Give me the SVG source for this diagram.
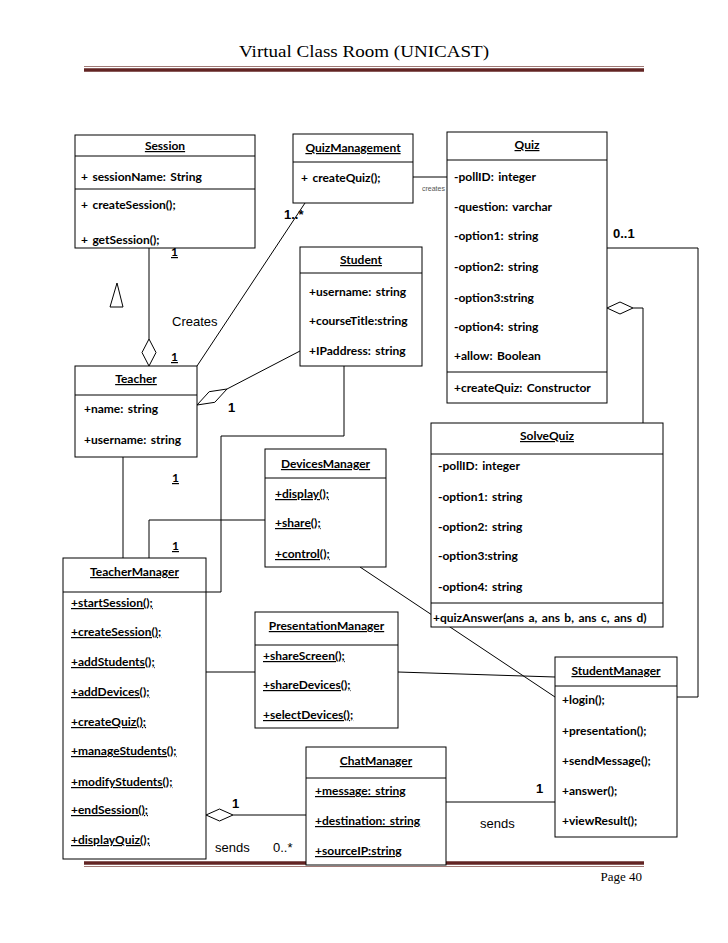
<svg xmlns="http://www.w3.org/2000/svg" width="728" height="943" viewBox="0 0 728 943">
<style>
.bx{fill:#fff;stroke:#000;stroke-width:1}
.dv{stroke:#000;stroke-width:1}
.t{font-family:Lato,"Open Sans","Liberation Sans",sans-serif;font-weight:bold;font-size:12px;word-spacing:1.5px;fill:#000}
.c{text-anchor:middle}
.u{text-decoration:underline}
.l{font-family:"Liberation Sans",Arial,sans-serif;font-size:13px;fill:#000}
.lb{font-family:"Liberation Sans",Arial,sans-serif;font-size:13px;font-weight:bold;fill:#000}
.cn{fill:none;stroke:#000;stroke-width:1}
.dm{fill:#fff;stroke:#000;stroke-width:1}
.sf{font-family:"Liberation Serif","DejaVu Serif",serif;fill:#000}
</style>
<rect width="728" height="943" fill="#fff"/>
<g id="header">
<text class="sf" x="364" y="57" font-size="17" text-anchor="middle" textLength="250" lengthAdjust="spacingAndGlyphs">Virtual Class Room (UNICAST)</text>
<line x1="84" y1="66.5" x2="644" y2="66.5" stroke="#a07a76" stroke-width="1"/>
<line x1="84" y1="70" x2="644" y2="70" stroke="#622423" stroke-width="3.5"/>
</g>
<g id="footer">
<line x1="84" y1="863" x2="644" y2="863" stroke="#622423" stroke-width="3.5"/>
<line x1="84" y1="866.5" x2="644" y2="866.5" stroke="#a07a76" stroke-width="1"/>
<text class="sf" x="642" y="881" font-size="13" text-anchor="end">Page 40</text>
</g>
<g id="connectors">
<line class="cn" x1="413" y1="177" x2="447" y2="177"/>
<path class="cn" d="M607,248 H698 V697 H677"/>
<path class="cn" d="M633,308 H643 V423"/>
<polygon class="dm" points="607,308 620,302 633,308 620,314"/>
<line class="cn" x1="149" y1="248" x2="149" y2="339"/>
<polygon class="dm" points="149,339 156,352.5 149,366 142,352.5"/>
<line class="cn" x1="305" y1="203" x2="197" y2="366"/>
<line class="cn" x1="227" y1="389" x2="300" y2="351"/>
<polygon class="dm" points="197,405 214.8,402.3 227,389 209.2,391.7"/>
<path class="cn" d="M344,366 V436 H221 V592 H206"/>
<line class="cn" x1="123" y1="457" x2="123" y2="558"/>
<path class="cn" d="M265,520 H149 V558"/>
<line class="cn" x1="360" y1="567" x2="555" y2="697"/>
<line class="cn" x1="206" y1="672" x2="255" y2="672"/>
<line class="cn" x1="398" y1="672" x2="555" y2="677"/>
<line class="cn" x1="446" y1="802" x2="555" y2="802"/>
<line class="cn" x1="233" y1="815" x2="306" y2="815"/>
<polygon class="dm" points="206,815 219.5,809 233,815 219.5,821"/>
<polygon points="117,283 110,307 123,307" fill="none" stroke="#000" stroke-width="1"/>
</g>
<g id="labels">
<text x="422" y="191" font-family="Liberation Sans,Arial,sans-serif" font-size="7" fill="#555">creates</text>
<text class="lb" x="284" y="219" font-size="12">1..*</text>
<text class="lb" x="613" y="238">0..1</text>
<text class="t u" x="171" y="256">1</text>
<text class="t u" x="171" y="361">1</text>
<text class="l" x="172" y="326">Creates</text>
<text class="lb" x="228" y="412">1</text>
<text class="t u" x="172" y="482">1</text>
<text class="t u" x="172" y="550">1</text>
<text class="lb" x="536" y="793">1</text>
<text class="l" x="480" y="828">sends</text>
<text class="lb" x="232" y="808">1</text>
<text class="l" x="215" y="852">sends</text>
<text class="l" x="273" y="852">0..*</text>
</g>
<g id="Session">
<rect class="bx" x="75" y="135" width="180" height="113"/>
<line class="dv" x1="75" y1="156" x2="255" y2="156"/>
<line class="dv" x1="75" y1="189" x2="255" y2="189"/>
<text class="t c u" x="165" y="150">Session</text>
<text class="t" x="81" y="181">+ sessionName: String</text>
<text class="t" x="81" y="209">+ createSession();</text>
<text class="t" x="81" y="244">+ getSession();</text>
</g>
<g id="QuizManagement">
<rect class="bx" x="293" y="134" width="120" height="69"/>
<line class="dv" x1="293" y1="162" x2="413" y2="162"/>
<text class="t c u" x="353" y="152">QuizManagement</text>
<text class="t" x="301" y="182">+ createQuiz();</text>
</g>
<g id="Quiz">
<rect class="bx" x="447" y="132" width="160" height="271"/>
<line class="dv" x1="447" y1="160" x2="607" y2="160"/>
<line class="dv" x1="447" y1="372" x2="607" y2="372"/>
<text class="t c u" x="527" y="149">Quiz</text>
<text class="t" x="454" y="181">-pollID: integer</text>
<text class="t" x="454" y="211">-question: varchar</text>
<text class="t" x="454" y="240">-option1: string</text>
<text class="t" x="454" y="271">-option2: string</text>
<text class="t" x="454" y="302">-option3:string</text>
<text class="t" x="454" y="331">-option4: string</text>
<text class="t" x="454" y="360">+allow: Boolean</text>
<text class="t" x="454" y="392">+createQuiz: Constructor</text>
</g>
<g id="Student">
<rect class="bx" x="300" y="247" width="122" height="119"/>
<line class="dv" x1="300" y1="273" x2="422" y2="273"/>
<text class="t c u" x="361" y="264">Student</text>
<text class="t" x="309" y="296">+username: string</text>
<text class="t" x="309" y="325">+courseTitle:string</text>
<text class="t" x="309" y="355">+IPaddress: string</text>
</g>
<g id="Teacher">
<rect class="bx" x="75" y="366" width="122" height="91"/>
<line class="dv" x1="75" y1="395" x2="197" y2="395"/>
<text class="t c u" x="136" y="383">Teacher</text>
<text class="t" x="84" y="413">+name: string</text>
<text class="t" x="84" y="444">+username: string</text>
</g>
<g id="DevicesManager">
<rect class="bx" x="265" y="449" width="121" height="118"/>
<line class="dv" x1="265" y1="478" x2="386" y2="478"/>
<text class="t c u" x="325.5" y="468">DevicesManager</text>
<text class="t u" x="275" y="498">+display();</text>
<text class="t u" x="275" y="527">+share();</text>
<text class="t u" x="275" y="558">+control();</text>
</g>
<g id="SolveQuiz">
<rect class="bx" x="431" y="423" width="232" height="204"/>
<line class="dv" x1="431" y1="454" x2="663" y2="454"/>
<line class="dv" x1="431" y1="603" x2="663" y2="603"/>
<text class="t c u" x="547" y="440">SolveQuiz</text>
<text class="t" x="438" y="470">-pollID: integer</text>
<text class="t" x="438" y="501">-option1: string</text>
<text class="t" x="438" y="531">-option2: string</text>
<text class="t" x="438" y="560">-option3:string</text>
<text class="t" x="438" y="591">-option4: string</text>
<text class="t" x="433" y="622">+quizAnswer(ans a, ans b, ans c, ans d)</text>
</g>
<g id="TeacherManager">
<rect class="bx" x="63" y="558" width="143" height="301"/>
<line class="dv" x1="63" y1="592" x2="206" y2="592"/>
<text class="t c u" x="134.5" y="576">TeacherManager</text>
<text class="t u" x="71" y="607">+startSession();</text>
<text class="t u" x="71" y="636">+createSession();</text>
<text class="t u" x="71" y="666">+addStudents();</text>
<text class="t u" x="71" y="696">+addDevices();</text>
<text class="t u" x="71" y="726">+createQuiz();</text>
<text class="t u" x="71" y="755">+manageStudents();</text>
<text class="t u" x="71" y="786">+modifyStudents();</text>
<text class="t u" x="71" y="814">+endSession();</text>
<text class="t u" x="71" y="844">+displayQuiz();</text>
</g>
<g id="PresentationManager">
<rect class="bx" x="255" y="612" width="143" height="116"/>
<line class="dv" x1="255" y1="645" x2="398" y2="645"/>
<text class="t c u" x="326.5" y="630">PresentationManager</text>
<text class="t u" x="263" y="660">+shareScreen();</text>
<text class="t u" x="263" y="689">+shareDevices();</text>
<text class="t u" x="263" y="719">+selectDevices();</text>
</g>
<g id="StudentManager">
<rect class="bx" x="555" y="657" width="122" height="180"/>
<line class="dv" x1="555" y1="686" x2="677" y2="686"/>
<text class="t c u" x="616" y="675">StudentManager</text>
<text class="t" x="562" y="704">+login();</text>
<text class="t" x="562" y="735">+presentation();</text>
<text class="t" x="562" y="765">+sendMessage();</text>
<text class="t" x="562" y="795">+answer();</text>
<text class="t" x="562" y="825">+viewResult();</text>
</g>
<g id="ChatManager">
<rect class="bx" x="306" y="747" width="140" height="118"/>
<line class="dv" x1="306" y1="778" x2="446" y2="778"/>
<text class="t c u" x="376" y="765">ChatManager</text>
<text class="t u" x="315" y="795">+message: string</text>
<text class="t u" x="315" y="825">+destination: string</text>
<text class="t u" x="315" y="855">+sourceIP:string</text>
</g>
</svg>
